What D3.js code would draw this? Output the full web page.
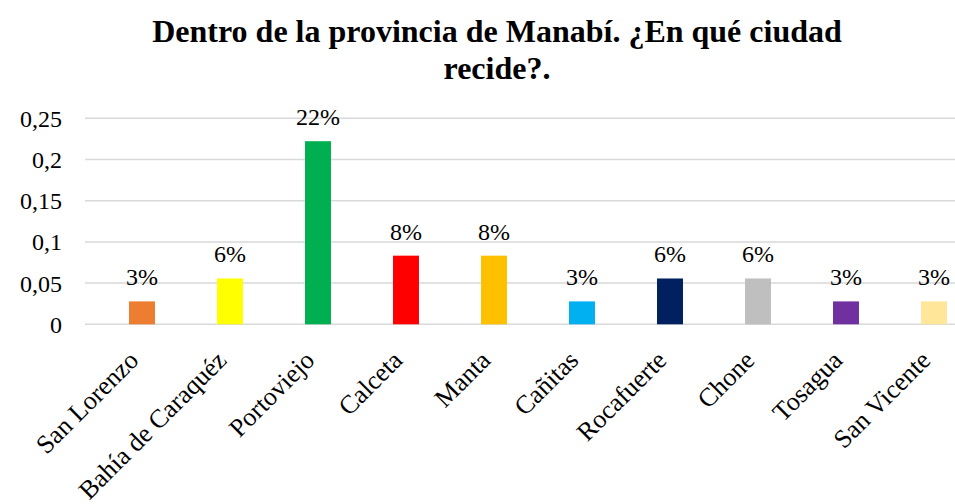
<!DOCTYPE html>
<html>
<head>
<meta charset="utf-8">
<script src="https://cdn.jsdelivr.net/npm/d3@7"></script>
<style>
  body { margin: 0; background: #fff; }
  svg { display: block; }
</style>
</head>
<body>
<svg id="chart" width="955" height="504"></svg>
<script>
const categories = ["San Lorenzo", "Bahía de Caraquéz", "Portoviejo", "Calceta", "Manta", "Cañitas", "Rocafuerte", "Chone", "Tosagua", "San Vicente"];
const values = [0.0278, 0.0556, 0.2222, 0.0833, 0.0833, 0.0278, 0.0556, 0.0556, 0.0278, 0.0278];
const valueLabels = ["3%", "6%", "22%", "8%", "8%", "3%", "6%", "6%", "3%", "3%"];
const colors = ["#ED7D31", "#FFFF00", "#00B050", "#FF0000", "#FFC000", "#00B0F0", "#002060", "#BFBFBF", "#7030A0", "#FFE699"];
const yTicks = [0, 0.05, 0.1, 0.15, 0.2, 0.25];
const yTickLabels = ["0", "0,05", "0,1", "0,15", "0,2", "0,25"];
const titleLines = ["Dentro de la provincia de Manabí. ¿En qué ciudad", "recide?."];

const FONT = "'Liberation Serif', 'Times New Roman', Tinos, serif";
const svg = d3.select("#chart");

const y = d3.scaleLinear().domain([0, 0.25]).range([324.3, 118.3]);
const x = d3.scaleBand().domain(categories).range([98, 978]).paddingInner(0.705).paddingOuter(0.3525);

// gridlines
svg.append("g").selectAll("line").data(yTicks).join("line")
  .attr("x1", 85).attr("x2", 955)
  .attr("y1", d => y(d)).attr("y2", d => y(d))
  .attr("stroke", "#d9d9d9").attr("stroke-width", 1.5);

// y axis labels
const yAxis = d3.axisLeft(y).tickValues(yTicks).tickFormat((d, i) => yTickLabels[i]).tickSize(0).tickPadding(0);
const gy = svg.append("g").attr("transform", "translate(62,0)").call(yAxis);
gy.select(".domain").remove();
gy.selectAll("text").style("font-family", FONT).style("font-size", "24px").attr("fill", "#000").attr("dy", 8);

// bars
svg.append("g").selectAll("rect").data(values).join("rect")
  .attr("x", (d, i) => x(categories[i]))
  .attr("width", x.bandwidth())
  .attr("y", d => y(d))
  .attr("height", d => y(0) - y(d))
  .attr("fill", (d, i) => colors[i]);

// value labels
svg.append("g").selectAll("text").data(values).join("text")
  .attr("x", (d, i) => x(categories[i]) + x.bandwidth() / 2)
  .attr("y", d => y(d) - 16)
  .attr("text-anchor", "middle")
  .style("font-family", FONT).style("font-size", "24px")
  .attr("fill", "#000")
  .text((d, i) => valueLabels[i]);

// x axis labels
const xAxis = d3.axisBottom(x).tickSize(0).tickPadding(0);
const gx = svg.append("g").attr("transform", "translate(0,324.3)").call(xAxis);
gx.select(".domain").remove();
gx.selectAll(".tick text")
  .style("font-family", FONT).style("font-size", "26px")
  .attr("fill", "#000")
  .attr("text-anchor", "end")
  .attr("dy", null)
  .attr("y", null)
  .attr("transform", "translate(-2,37.5) rotate(-45)");

// title
svg.append("g").selectAll("text").data(titleLines).join("text")
  .attr("x", 497)
  .attr("y", (d, i) => 42 + i * 36.5)
  .attr("text-anchor", "middle")
  .style("font-family", FONT).style("font-size", "32px").style("font-weight", "bold")
  .attr("fill", "#000")
  .text(d => d);
</script>
</body>
</html>
